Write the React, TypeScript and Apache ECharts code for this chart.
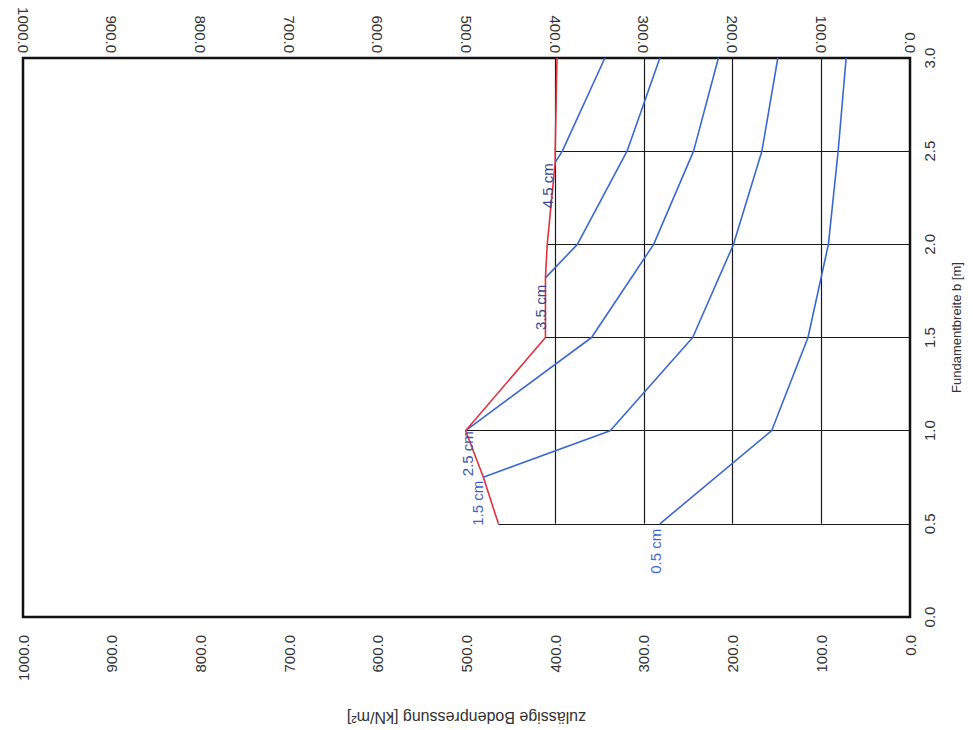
import React, { useEffect, useRef } from "react";
import * as echarts from "echarts";

// Fundamentbreite b [m] (vertical axis) and zulässige Bodenpressung [kN/m²] (horizontal axis, reversed)
const widthTicks = [0, 0.5, 1.0, 1.5, 2.0, 2.5, 3.0];
const pressureTicks = [0, 100, 200, 300, 400, 500, 600, 700, 800, 900, 1000];

// settlement curves
const curveNames = ["0.5 cm", "1.5 cm", "2.5 cm", "3.5 cm", "4.5 cm"];
const b05 = [0.5, 1.0, 1.5, 2.0, 2.5, 3.0];
const p05 = [282, 156, 115, 92, 81, 72];
const b15 = [0.75, 1.0, 1.5, 2.0, 2.5, 3.0];
const p15 = [481, 338, 245, 199, 167, 149];
const b25 = [1.0, 1.5, 2.0, 2.5, 3.0];
const p25 = [501, 359, 289, 244, 216];
const b35 = [1.82, 2.0, 2.5, 3.0];
const p35 = [411, 375, 319, 282];
const b45 = [2.44, 2.5, 3.0];
const p45 = [400, 392, 344];

// limit line (red)
const bLimit = [0.5, 0.75, 1.0, 1.5, 1.82, 2.0, 2.44, 2.5, 3.0];
const pLimit = [464, 481, 501, 411, 411, 409, 400, 400, 398];

// inner grid
const gridB = [0.5, 1.0, 1.5, 2.0, 2.5];
const gridP = [100, 200, 300, 400];

// label styles (offset of text end from first curve point, colour)
const labelStyle = [
  { dx: -4.5, dy: 5, color: "#4169d6" },
  { dx: -6, dy: 3.5, color: "#3f62c8" },
  { dx: 1.5, dy: 0.5, color: "#3d56a8" },
  { dx: -5, dy: 7, color: "#3a4a8e" },
  { dx: -8, dy: 1, color: "#3a4a8e" },
];

const FONT = '"Liberation Sans", Arial, sans-serif';

export default function App() {
  const ref = useRef<HTMLDivElement>(null);

  useEffect(() => {
    if (!ref.current) return;
    const chart = echarts.init(ref.current, null, { renderer: "svg" });

    const curves = [
      { name: curveNames[0], b: b05, p: p05 },
      { name: curveNames[1], b: b15, p: p15 },
      { name: curveNames[2], b: b25, p: p25 },
      { name: curveNames[3], b: b35, p: p35 },
      { name: curveNames[4], b: b45, p: p45 },
    ];

    const gridSegments: any[] = [];
    gridB.forEach((b) => {
      const idx = bLimit.indexOf(b);
      const start = idx >= 0 ? pLimit[idx] : pressureTicks[4];
      gridSegments.push({ coords: [[start, b], [0, b]] });
    });
    gridP.forEach((p) => {
      gridSegments.push({ coords: [[p, widthTicks[1]], [p, widthTicks[widthTicks.length - 1]]] });
    });

    const xAxisBase = {
      type: "value",
      inverse: true,
      min: pressureTicks[0],
      max: pressureTicks[pressureTicks.length - 1],
      interval: 100,
      axisLine: { show: false },
      axisTick: { show: false },
      splitLine: { show: false },
    };

    const option: any = {
      animation: false,
      backgroundColor: "#ffffff",
      grid: {
        left: 23,
        right: 63,
        top: 58,
        bottom: 113,
        show: true,
        borderColor: "#111",
        borderWidth: 2.5,
        backgroundColor: "transparent",
      },
      xAxis: [
        {
          ...xAxisBase,
          position: "bottom",
          axisLabel: {
            rotate: 90,
            margin: 18,
            fontSize: 15,
            fontFamily: FONT,
            color: "#333",
            padding: [0, 0, 10, 0],
            showMinLabel: true,
            showMaxLabel: true,
            formatter: (v: number) => v.toFixed(1),
          },
          name: "zulässige Bodenpressung [kN/m²]",
          nameLocation: "middle",
          nameRotate: 180,
          nameGap: 92,
          nameTextStyle: { fontSize: 16, fontFamily: FONT, color: "#333" },
        },
        {
          ...xAxisBase,
          position: "top",
          axisLabel: {
            rotate: 90,
            margin: 5,
            fontSize: 15,
            fontFamily: FONT,
            color: "#333",
            padding: [0, 0, 10, 0],
            showMinLabel: true,
            showMaxLabel: true,
            formatter: (v: number) => v.toFixed(1),
          },
        },
      ],
      yAxis: {
        type: "value",
        position: "right",
        min: widthTicks[0],
        max: widthTicks[widthTicks.length - 1],
        interval: 0.5,
        axisLine: { show: false },
        axisTick: { show: false },
        splitLine: { show: false },
        axisLabel: {
          rotate: 90,
          margin: 12,
          fontSize: 15,
          fontFamily: FONT,
          color: "#333",
          showMinLabel: true,
          showMaxLabel: true,
          formatter: (v: number) => v.toFixed(1),
        },
        name: "Fundamentbreite b [m]",
        nameLocation: "middle",
        nameRotate: 90,
        nameGap: 40,
        nameTextStyle: {
          fontSize: 13,
          fontFamily: FONT,
          color: "#333",
          padding: [0, 0, 0, 20],
        },
      },
      series: [
        {
          type: "lines",
          coordinateSystem: "cartesian2d",
          xAxisIndex: 0,
          yAxisIndex: 0,
          silent: true,
          z: 1,
          lineStyle: { color: "#1a1a1a", width: 1.2, opacity: 1 },
          data: gridSegments,
        },
        ...curves.map((c) => ({
          type: "line",
          name: c.name,
          xAxisIndex: 0,
          yAxisIndex: 0,
          z: 3,
          showSymbol: false,
          symbol: "none",
          silent: true,
          lineStyle: { color: "#3a68d2", width: 1.6 },
          data: c.p.map((p, i) => [p, c.b[i]]),
        })),
        {
          type: "line",
          name: "limit",
          xAxisIndex: 0,
          yAxisIndex: 0,
          z: 4,
          showSymbol: false,
          symbol: "none",
          silent: true,
          lineStyle: { color: "#e0323e", width: 1.6 },
          data: pLimit.map((p, i) => [p, bLimit[i]]),
        },
      ],
    };

    chart.setOption(option);

    const graphics = curves.map((c, i) => {
      const pt = chart.convertToPixel({ xAxisIndex: 0, yAxisIndex: 0 } as any, [c.p[0], c.b[0]]) as number[];
      const st = labelStyle[i];
      return {
        type: "text",
        x: pt[0] + st.dx,
        y: pt[1] + st.dy,
        rotation: Math.PI / 2,
        z: 10,
        style: {
          text: c.name,
          align: "right",
          verticalAlign: "middle",
          fill: st.color,
          fontSize: 15,
          fontFamily: FONT,
        },
      };
    });
    chart.setOption({ graphic: graphics });

    return () => {
      chart.dispose();
    };
  }, []);

  return (
    <div
      ref={ref}
      style={{ position: "fixed", left: 0, top: 0, width: 973, height: 730, background: "#fff" }}
    />
  );
}
